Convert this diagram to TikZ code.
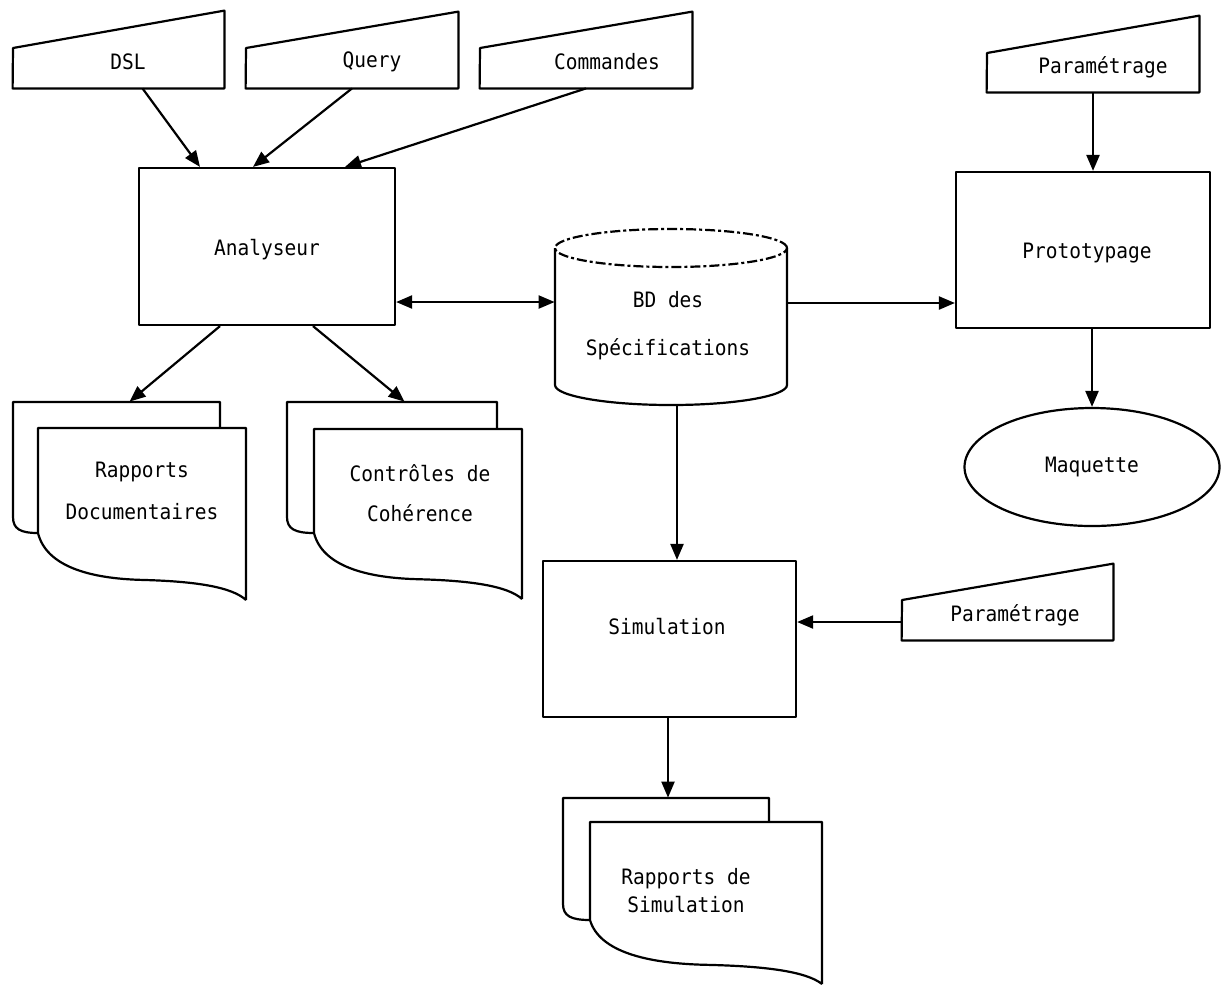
\documentclass[tikz,border=0pt]{standalone}
\usepackage{fontspec}
\usetikzlibrary{arrows.meta,shapes.geometric,fit,calc}
\newfontfamily\labfont[FakeStretch=0.92]{DejaVu Sans Mono}
\newcommand\docshape[8]{%
  % #1 bx, #2 by, #3 back width, #4 dx, #5 dy, #6 front width, #7 left height, #8 tip height
  \draw[ln] ({#1+#4},{#2+#5+#7}) .. controls ({#1+0.3*#4},{#2+#5+#7}) and (#1,{#2+#5+#7-4}) .. (#1,{#2+#5+#7-16})
     -- (#1,#2) -- ({#1+#3},#2) -- ({#1+#3},{#2+#5});
  \draw[ln] ({#1+#4+#6},{#2+#5+#8}) -- ({#1+#4+#6},{#2+#5}) -- ({#1+#4},{#2+#5}) -- ({#1+#4},{#2+#5+#7})
     .. controls ({#1+#4+0.04*#6},{#2+#5+#7+0.5*(#8-#7)}) and ({#1+#4+0.25*#6},{#2+#5+#7+0.68*(#8-#7)})
     .. ({#1+#4+0.5*#6},{#2+#5+#7+0.7*(#8-#7)})
     .. controls ({#1+#4+0.75*#6},{#2+#5+#7+0.72*(#8-#7)}) and ({#1+#4+0.93*#6},{#2+#5+#7+0.8*(#8-#7)})
     .. ({#1+#4+#6},{#2+#5+#8});
}
\tikzset{
  ln/.style={line width=1.1pt, line join=round},
  box/.style={ln, draw, inner sep=0pt, font=\labfont\fontsize{10.6}{12}\selectfont},
  holder/.style={inner sep=0pt, draw=none},
  lbl/.style={inner sep=0pt, align=center, font=\labfont\fontsize{10.6}{12}\selectfont},
  arr/.style={ln, -{Triangle[length=8pt,width=6.5pt]}},
  darr/.style={ln, {Triangle[length=8pt,width=6.5pt]}-{Triangle[length=8pt,width=6.5pt]}},
}
\begin{document}
\begin{tikzpicture}[x=0.5pt,y=-0.5pt]
\useasboundingbox (0,0) rectangle (1224,987);

% ---------- manual inputs ----------
\node[holder, fit={(13,11)(224,88)}] (dsl) {};
\draw[ln] (dsl.south west) -- (13,48) -- (dsl.north east) -- (dsl.south east) -- cycle;
\node[lbl] (dsl-t) at (128,62) {DSL};

\node[holder, fit={(246,12)(458,88)}] (query) {};
\draw[ln] (query.south west) -- (246,48) -- (query.north east) -- (query.south east) -- cycle;
\node[lbl] (query-t) at (372,62) {Query};

\node[holder, fit={(480,12)(692,88)}] (cmd) {};
\draw[ln] (cmd.south west) -- (480,48) -- (cmd.north east) -- (cmd.south east) -- cycle;
\node[lbl] (cmd-t) at (607,62) {Commandes};

\node[holder, fit={(987,16)(1199,92)}] (par1) {};
\draw[ln] (par1.south west) -- (987,53) -- (par1.north east) -- (par1.south east) -- cycle;
\node[lbl] (par1-t) at (1103,67) {Paramétrage};

\node[holder, fit={(902,564)(1113,640)}] (par2) {};
\draw[ln] (par2.south west) -- (902,600) -- (par2.north east) -- (par2.south east) -- cycle;
\node[lbl] (par2-t) at (1015,615) {Paramétrage};

% ---------- processes ----------
\node[box, fit={(139,168)(395,325)}] (ana) {};
\node[lbl] (ana-t) at (267,250) {Analyseur};
\node[box, fit={(956,172)(1210,328)}] (proto) {};
\node[lbl] (proto-t) at (1087,253) {Prototypage};
\node[box, fit={(543,561)(796,717)}] (sim) {};
\node[lbl] (sim-t) at (667,627) {Simulation};

\node[box, ellipse, minimum width=127.5pt, minimum height=59pt] (maq) at (1092,467) {};
\node[lbl] (maq-t) at (1092,467) {Maquette};

% ---------- database cylinder ----------
\node[holder, fit={(555,229)(787,405)}] (bd) {};
\draw[ln, dash pattern=on 5pt off 1.5pt on 1.5pt off 1.5pt] (671,248) ellipse [x radius=58pt, y radius=9.5pt];
\draw[ln] (555,248) -- (555,385) .. controls (555,396) and (607,405) .. (671,405)
          .. controls (735,405) and (787,396) .. (787,385) -- (787,248);
\node[lbl] (bd-t) at (668,326) {BD des\\[12pt]Spécifications};

% ---------- documents ----------
\docshape{13}{402}{207}{25}{26}{208}{105}{172}
\node[holder, fit={(13,402)(246,600)}] (doc1) {};
\node[lbl] (doc1-t) at (142,491) {Rapports\\[9pt]Documentaires};

\docshape{287}{402}{210}{27}{27}{208}{104}{170}
\node[holder, fit={(287,402)(522,601)}] (doc2) {};
\node[lbl] (doc2-t) at (420,493) {Contrôles de\\[8pt]Cohérence};

\docshape{563}{798}{206}{27}{24}{232}{98}{162}
\node[holder, fit={(563,798)(822,984)}] (doc3) {};
\node[lbl] (doc3-t) at (686,891) {Rapports de\\[2pt]Simulation};

% ---------- connectors ----------
\draw[arr] ($(dsl.south)+(24,0)$) -- ($(ana.north)+(-67,0)$);
\draw[arr] (query.south) -- ($(ana.north)+(-14,0)$);
\draw[arr] (cmd.south) -- ($(ana.north)+(78,0)$);
\draw[arr] (par1.south) -- (par1.south |- proto.north);
\draw[arr] (maq.north |- proto.south) -- (maq.north);
\draw[darr] ($(ana.east)+(0,55.5)$) -- (bd.west |- {$(ana.east)+(0,55.5)$});
\draw[arr] (bd.east |- {$(proto.west)+(0,53)$}) -- ($(proto.west)+(0,53)$);
\draw[arr] ($(bd.south)+(6,0)$) -- ($(bd.south |- sim.north)+(6,0)$);
\draw[arr] ($(par2.west)+(0,20)$) -- (sim.east |- {$(par2.west)+(0,20)$});
\draw[arr] ($(sim.south)+(-1.5,0)$) -- ($(sim.south |- doc3.north)+(-1.5,0)$);
\draw[arr] ($(ana.south)+(-47,0)$) -- (doc1.north);
\draw[arr] ($(ana.south)+(46,0)$) -- (doc2.north);
\end{tikzpicture}
\end{document}
